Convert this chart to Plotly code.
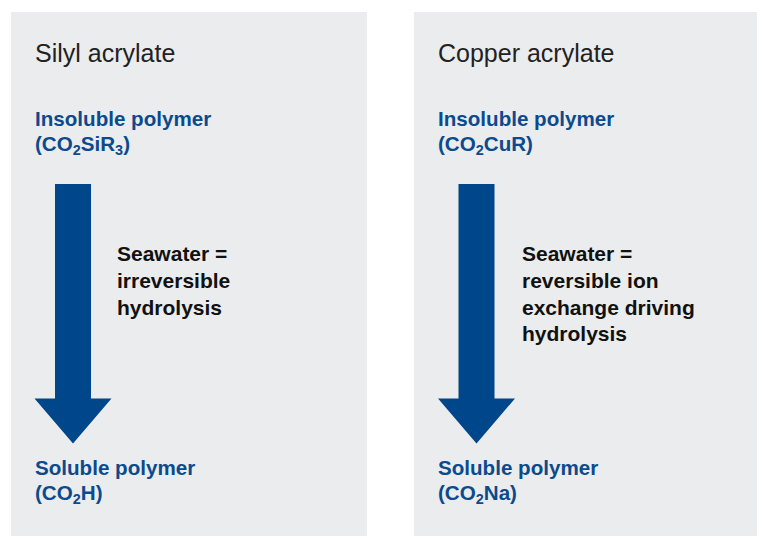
import plotly.graph_objects as go

# ---- content ----
panel_titles = ["Silyl acrylate", "Copper acrylate"]
top_labels = ["Insoluble polymer", "Insoluble polymer"]
top_formulas = ["(CO<sub>2</sub>SiR<sub>3</sub>)", "(CO<sub>2</sub>CuR)"]
process_text = [
    ["Seawater =", "irreversible", "hydrolysis"],
    ["Seawater =", "reversible ion", "exchange driving", "hydrolysis"],
]
bottom_labels = ["Soluble polymer", "Soluble polymer"]
bottom_formulas = ["(CO<sub>2</sub>H)", "(CO<sub>2</sub>Na)"]

# ---- layout geometry (pixels, in window coordinates) ----
W, H = 757, 536
panel_x = [(11, 367), (414, 770)]
panel_top = 12
text_x = [33, 436]
arrow_cx = [73, 476.5]
shaft_half = 18
head_half = 38.5
arrow_top = 184
head_base = 398.5
arrow_tip = 443.5
proc_x = [115, 520]
top_y, top_gap = 105, 25
proc_y, proc_gap = 240, 26.8
bot_y, bot_gap = 453.5, 25.5

BLUE_TXT = "#0c4a8e"
BLUE_ARROW = "#00468a"
PANEL = "#ebeced"
FONT = "Liberation Sans, Arial, sans-serif"

fig = go.Figure()
shapes = []
annotations = []


def label(x, y, text, size, color):
    return dict(x=x, y=y, xref="x", yref="y", text=text, showarrow=False,
                xanchor="left", yanchor="top", align="left",
                font=dict(family=FONT, size=size, color=color))


for i in range(2):
    x0, x1 = panel_x[i]
    shapes.append(dict(type="rect", xref="x", yref="y", x0=x0, x1=x1, y0=panel_top, y1=H + 20,
                       fillcolor=PANEL, line=dict(width=0), layer="below"))
    cx = arrow_cx[i]
    path = (f"M {cx-shaft_half} {arrow_top} L {cx+shaft_half} {arrow_top} "
            f"L {cx+shaft_half} {head_base} L {cx+head_half} {head_base} "
            f"L {cx} {arrow_tip} L {cx-head_half} {head_base} "
            f"L {cx-shaft_half} {head_base} Z")
    shapes.append(dict(type="path", xref="x", yref="y", path=path,
                       fillcolor=BLUE_ARROW, line=dict(width=0)))

    annotations.append(label(text_x[i], 37, panel_titles[i], 25, "#222222"))
    annotations.append(label(text_x[i], top_y, f"<b>{top_labels[i]}</b>", 20.6, BLUE_TXT))
    annotations.append(label(text_x[i], top_y + top_gap, f"<b>{top_formulas[i]}</b>", 20.6, BLUE_TXT))
    for k, line in enumerate(process_text[i]):
        annotations.append(label(proc_x[i], proc_y + k * proc_gap, f"<b>{line}</b>", 21, "#111111"))
    annotations.append(label(text_x[i], bot_y, f"<b>{bottom_labels[i]}</b>", 20.6, BLUE_TXT))
    annotations.append(label(text_x[i], bot_y + bot_gap, f"<b>{bottom_formulas[i]}</b>", 20.6, BLUE_TXT))

fig.update_layout(
    width=W, height=H,
    margin=dict(l=0, r=0, t=0, b=0),
    paper_bgcolor="white", plot_bgcolor="white",
    xaxis=dict(range=[0, W], visible=False, fixedrange=True),
    yaxis=dict(range=[H, 0], visible=False, fixedrange=True),
    shapes=shapes, annotations=annotations,
    showlegend=False,
)

fig.write_html(
    "out.html",
    config={"displayModeBar": False},
    post_script="document.body.style.margin='0';document.body.style.overflow='hidden';",
)
